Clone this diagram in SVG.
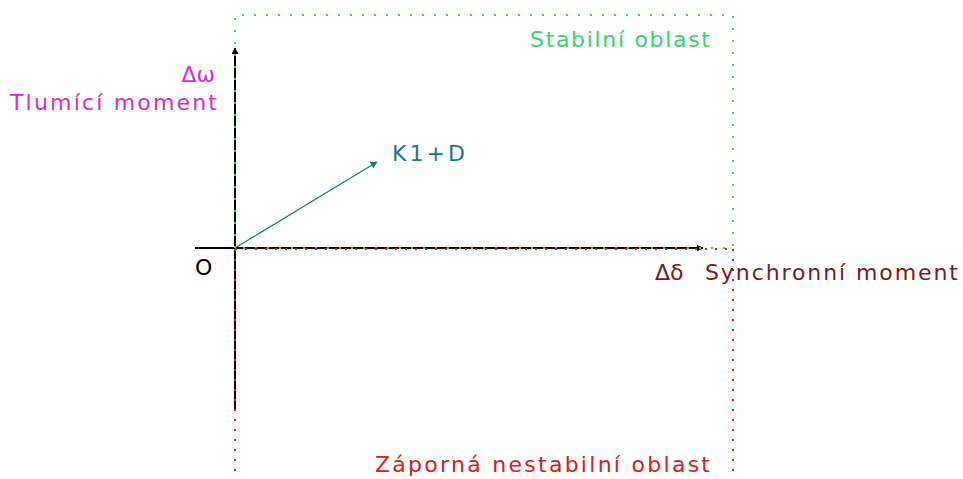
<svg xmlns="http://www.w3.org/2000/svg" width="963" height="479" viewBox="0 0 963 479">
<style>
text{font-family:"DejaVu Sans","Liberation Sans",sans-serif;font-size:22px}
.g{stroke:#3fd13f;stroke-width:2;stroke-dasharray:2 10;fill:none}
.r{stroke:#d42020;stroke-width:2;stroke-dasharray:2 8;fill:none}
.ax{stroke:#000;stroke-width:2;fill:none}
</style>
<defs>
<marker id="ah" viewBox="0 0 10 10" refX="9" refY="5" markerWidth="7" markerHeight="7" orient="auto" markerUnits="userSpaceOnUse"><path d="M0,0L10,5L0,10z" fill="#000"/></marker>
<marker id="at" viewBox="0 0 10 10" refX="9" refY="5" markerWidth="10" markerHeight="7" orient="auto" markerUnits="userSpaceOnUse"><path d="M0,0L10,5L0,10z" fill="#1a7a7a"/></marker>
</defs>
<rect width="963" height="479" fill="#fff"/>
<g id="connectors">
<line class="ax" x1="235" y1="410" x2="235" y2="48" marker-end="url(#ah)"/>
<line class="ax" x1="195" y1="248" x2="703" y2="248" marker-end="url(#ah)"/>
<line x1="235" y1="248" x2="377" y2="162" stroke="#1a7a7a" stroke-width="1.2" marker-end="url(#at)"/>
</g>
<g id="stable-region">
<path class="g" d="M235,248V15H733V248H235"/>
<text x="710" y="47" text-anchor="end" fill="#3ad16a" textLength="180">Stabilní oblast</text>
</g>
<g id="unstable-region">
<path class="r" d="M235,249V479M733,249V479M235,249H733"/>
<text x="710" y="472" text-anchor="end" fill="#d42020" textLength="335">Záporná nestabilní oblast</text>
</g>
<g id="y-axis-label">
<text x="215" y="82" text-anchor="end" fill="#d42ad4">Δω</text>
<text x="217" y="110" text-anchor="end" fill="#d42ad4" textLength="207">Tlumící moment</text>
</g>
<g id="x-axis-label">
<text x="655" y="280" fill="#7a1a1a">Δδ</text>
<text x="705" y="280" fill="#7a1a1a" textLength="253">Synchronní moment</text>
</g>
<g id="vector">
<text x="392" y="161" fill="#1a7a7a" textLength="73">K1+D</text>
</g>
<g id="origin">
<text x="195" y="275" fill="#000">O</text>
</g>
</svg>
